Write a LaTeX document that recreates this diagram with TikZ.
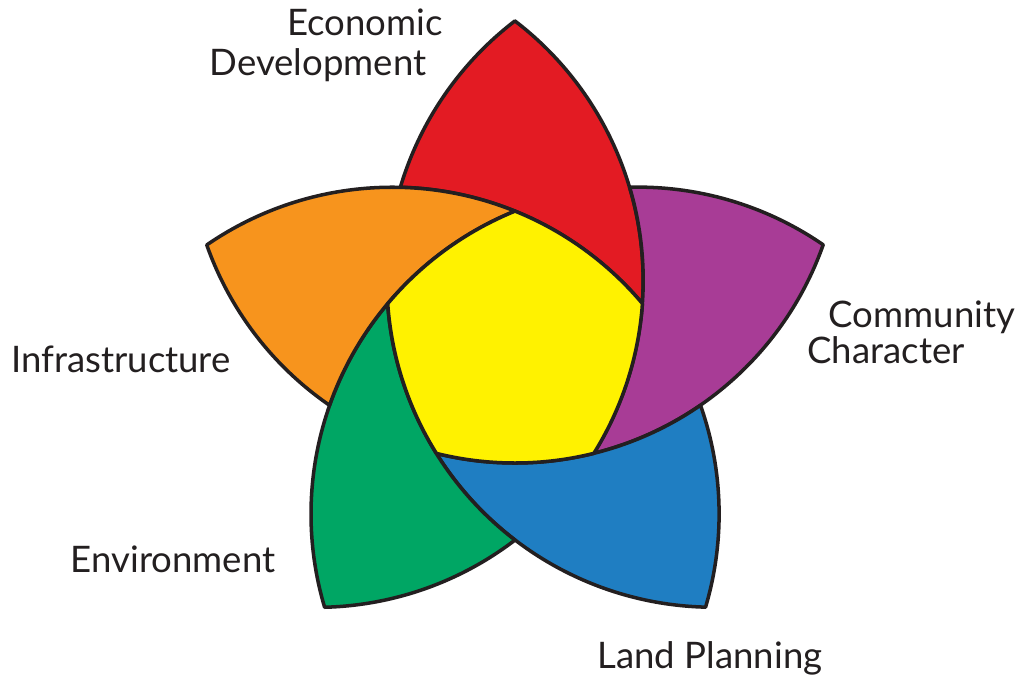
\documentclass[tikz,border=0pt]{standalone}
\usepackage{fontspec}
\setmainfont{Lato}
\usepackage{xcolor}
\definecolor{petalred}{RGB}{227,27,35}
\definecolor{petalorange}{RGB}{247,148,29}
\definecolor{petalpurple}{RGB}{168,60,150}
\definecolor{petalblue}{RGB}{31,126,194}
\definecolor{petalgreen}{RGB}{0,166,100}
\definecolor{petalyellow}{RGB}{255,242,0}
\definecolor{inkgray}{RGB}{35,31,32}

\begin{document}
\begin{tikzpicture}[line join=round,petal/.style={draw=inkgray,line width=1pt},lbl/.style={anchor=base,text=inkgray,font=\fontsize{10.4}{12}\selectfont}]
    \useasboundingbox (-5.15,-3.35) rectangle (5.10,3.45);

    % petals, each one drawn upright and turned into place
    \foreach \ang/\col in {0/petalred,-72/petalpurple,-144/petalblue,144/petalgreen,72/petalorange}{
        \begin{scope}[rotate=\ang]
            \filldraw[petal,fill=\col] (0,3.24)
                arc[start angle=52.55,end angle=-4.04,radius=3.269]
                arc[start angle=40.08,end angle=88.57,radius=3.269]
                arc[start angle=163.43,end angle=127.45,radius=3.269] -- cycle;
        \end{scope}
    }

    % centre
    \filldraw[petal,fill=petalyellow] (18:1.34)
        arc[start angle=-4.04,end angle=-31.91,radius=3.269]
        arc[start angle=-76.04,end angle=-103.91,radius=3.269]
        arc[start angle=-148.04,end angle=-175.91,radius=3.269]
        arc[start angle=-220.04,end angle=-247.91,radius=3.269]
        arc[start angle=-292.04,end angle=-319.91,radius=3.269] -- cycle;

    \node[lbl] (econ) at (-1.50,3.10) {Economic};
    \node[lbl] (devel) at (-1.97,2.70) {Development};
    \node[lbl] (comm) at (4.07,0.18) {Community};
    \node[lbl] (chara) at (3.71,-0.18) {Character};
    \node[lbl] (infra) at (-3.94,-0.27) {Infrastructure};
    \node[lbl] (envir) at (-3.42,-2.27) {Environment};
    \node[lbl] (land) at (1.95,-3.23) {Land Planning};
\end{tikzpicture}
\end{document}
